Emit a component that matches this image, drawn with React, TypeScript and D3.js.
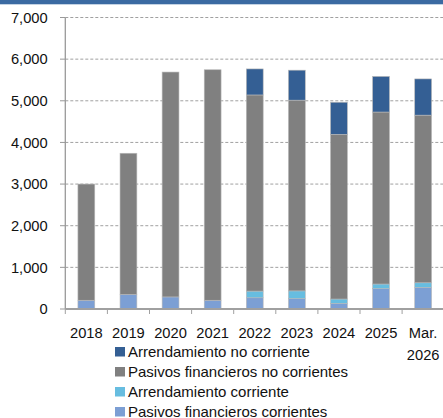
import React from "react";
import * as d3 from "d3";

const categories = ["2018", "2019", "2020", "2021", "2022", "2023", "2024", "2025", "Mar. 2026"];
const categoryLines = [["2018"], ["2019"], ["2020"], ["2021"], ["2022"], ["2023"], ["2024"], ["2025"], ["Mar.", "2026"]];
const pasivosCorrientes = [210, 350, 290, 210, 270, 250, 135, 490, 520];
const arrendCorriente = [0, 0, 0, 0, 160, 185, 105, 110, 110];
const pasivosNoCorrientes = [2790, 3390, 5400, 5535, 4710, 4580, 3955, 4130, 4025];
const arrendNoCorriente = [0, 0, 0, 0, 625, 720, 770, 855, 870];
const yTicks = [0, 1000, 2000, 3000, 4000, 5000, 6000, 7000];

const seriesNames = [
  "Pasivos financieros corrientes",
  "Arrendamiento corriente",
  "Pasivos financieros no corrientes",
  "Arrendamiento no corriente",
];
const seriesColors = ["#7c9fd4", "#67bde0", "#808080", "#345f94"];
const legendOrder = [3, 2, 1, 0];

export default function App() {
  const W = 443, H = 418;
  const x0 = 65.3, step = 42.1;
  const x = d3.scaleBand<string>().domain(categories).range([x0, x0 + step * categories.length]).paddingInner(0.6).paddingOuter(0.3);
  const y = d3.scaleLinear().domain([0, 7000]).range([309, 17.5]);
  const rows = categories.map((c, i) => ({
    cat: c,
    s0: pasivosCorrientes[i],
    s1: arrendCorriente[i],
    s2: pasivosNoCorrientes[i],
    s3: arrendNoCorriente[i],
  }));
  const stacked = d3.stack<any>().keys(["s0", "s1", "s2", "s3"])(rows);
  const font = "'Liberation Sans', Arial, sans-serif";
  const fmt = d3.format(",");
  return (
    <svg width={W} height={H} style={{ position: "absolute", left: 0, top: 0, background: "#fff" }} fontFamily={font}>
      <rect x={0} y={0} width={W} height={4.3} fill="#3b6aa2" />
      {yTicks.map((t) => (
        <g key={t}>
          {t > 0 && (
            <line x1={x0} x2={W} y1={y(t)} y2={y(t)} stroke="#a0a0a0" strokeWidth={1} strokeDasharray="3,2" />
          )}
          <line x1={60} x2={x0} y1={y(t)} y2={y(t)} stroke="#999" strokeWidth={1} />
          <text x={47.7} y={y(t)} dy="0.35em" textAnchor="end" fontSize={14.7} fill="#111">{fmt(t)}</text>
        </g>
      ))}
      {stacked.map((s, si) => (
        <g key={si}>
          {s.map((d, i) => {
            const h = y(d[0]) - y(d[1]);
            if (h <= 0) return null;
            return (
              <rect key={i} x={x(categories[i])!} width={x.bandwidth()} y={y(d[1])} height={h}
                fill={seriesColors[si]} stroke="#b8b8b8" strokeWidth={0.6} />
            );
          })}
        </g>
      ))}
      <line x1={x0} x2={x0} y1={y(7000)} y2={y(0)} stroke="#999" strokeWidth={1.3} />
      <line x1={x0} x2={W} y1={y(0)} y2={y(0)} stroke="#a0a0a0" strokeWidth={2} />
      {categories.map((c, i) => (
        <line key={c} x1={x0 + step * i} x2={x0 + step * i} y1={y(0)} y2={y(0) + 5} stroke="#a0a0a0" strokeWidth={1} />
      ))}
      {categories.map((c, i) => (
        <text key={c} x={x(c)! + x.bandwidth() / 2} y={338} textAnchor="middle" fontSize={14.7} fill="#111">
          {categoryLines[i].map((l, li) => (
            <tspan key={li} x={x(c)! + x.bandwidth() / 2} y={338 + li * 22}>{l}</tspan>
          ))}
        </text>
      ))}
      {legendOrder.map((si, k) => (
        <g key={si} transform={`translate(115, ${356.5 + k * 20})`}>
          <rect x={0} y={-9.5} width={10} height={9.5} fill={seriesColors[si]} />
          <text x={13} y={0} fontSize={15} fill="#111">{seriesNames[si]}</text>
        </g>
      ))}
    </svg>
  );
}
